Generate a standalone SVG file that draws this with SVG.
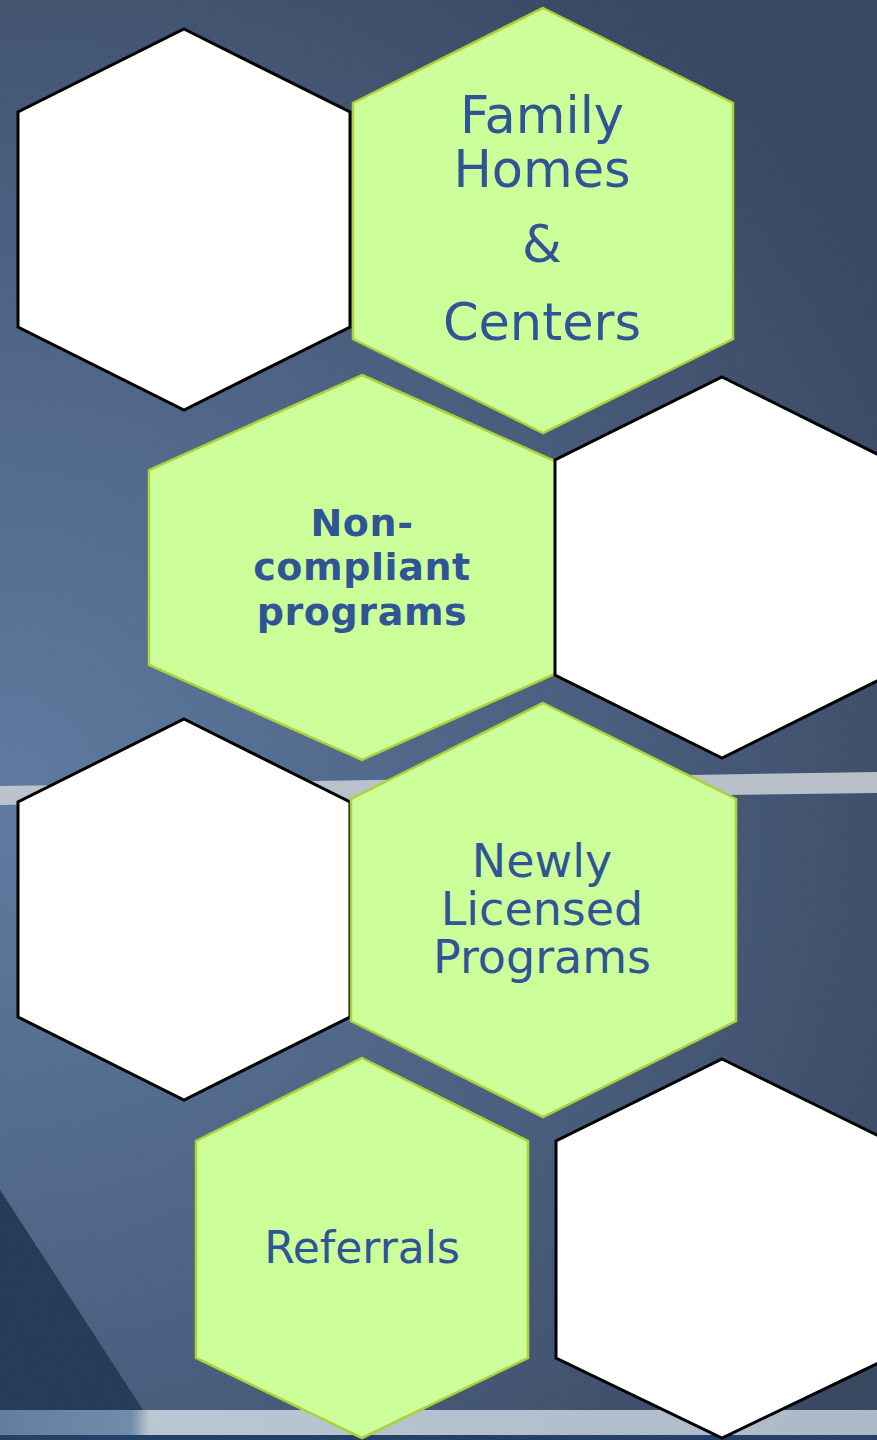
<svg xmlns="http://www.w3.org/2000/svg" width="877" height="1440" viewBox="0 0 877 1440">
<defs>
<radialGradient id="bg" gradientUnits="userSpaceOnUse" cx="0" cy="800" r="1020">
<stop offset="0" stop-color="#5a779c"/>
<stop offset="0.55" stop-color="#465c7d"/>
<stop offset="1" stop-color="#33435d"/>
</radialGradient>
<linearGradient id="stripe2" x1="0" y1="0" x2="1" y2="0">
<stop offset="0" stop-color="#5d7a9c"/>
<stop offset="0.15" stop-color="#6d88a8"/>
<stop offset="0.17" stop-color="#b9c5d0"/>
<stop offset="1" stop-color="#a9b7c6"/>
</linearGradient>
<filter id="grain" x="0" y="0" width="100%" height="100%">
<feTurbulence type="fractalNoise" baseFrequency="0.9" numOctaves="2" seed="3" result="n"/>
<feColorMatrix type="matrix" values="0 0 0 0 1  0 0 0 0 1  0 0 0 0 1  0 0 0 0.06 0"/>
</filter>
</defs>
<style>
.white{fill:#ffffff;stroke:#000000;stroke-width:3;stroke-linejoin:miter}
.green{fill:#ccff99;stroke:#acd23a;stroke-width:2.5;stroke-linejoin:miter}
.lbl{font-family:"DejaVu Sans","Liberation Sans",sans-serif;fill:#2f5597;text-anchor:middle}
.big{font-size:51px}
.mid{font-size:46px}
.bold{font-size:38px;font-weight:bold;letter-spacing:0.6px}
.ref{font-size:44px}
</style>
<g id="background">
<rect x="0" y="0" width="877" height="1440" fill="url(#bg)"/>
<polygon points="0,786 877,772 877,793 0,805" fill="#c3cad1" opacity="0.9"/>
<rect x="0" y="1410" width="877" height="25" fill="url(#stripe2)"/>
<rect x="0" y="1435" width="877" height="5" fill="#1f3b63"/>
<path d="M0,1190 Q75,1305 143,1410 L0,1410 Z" fill="#213553"/>
<rect x="0" y="0" width="877" height="1440" filter="url(#grain)"/>
</g>
<g id="connectors"/>
<g id="hex-white-1">
<polygon class="white" points="184,29 350,112 350,327 184,410 18,327 18,112"/>
</g>
<g id="hex-family">
<polygon class="green" points="543,8 733,103 733,339 543,433 353,339 353,103"/>
<text class="lbl big" x="542" y="133">Family</text>
<text class="lbl big" x="542" y="187">Homes</text>
<text class="lbl big" x="542" y="262">&amp;</text>
<text class="lbl big" x="542" y="340">Centers</text>
</g>
<g id="hex-noncompliant">
<polygon class="green" points="362,375 575,470 575,665 362,760 149,665 149,470"/>
<text class="lbl bold" x="362" y="536">Non-</text>
<text class="lbl bold" x="362" y="580">compliant</text>
<text class="lbl bold" x="362" y="625">programs</text>
</g>
<g id="hex-white-2">
<polygon class="white" points="722,377 889,460 889,675 722,758 555,675 555,460"/>
</g>
<g id="hex-white-3">
<polygon class="white" points="184,719 350,802 350,1017 184,1100 18,1017 18,802"/>
</g>
<g id="hex-newly">
<polygon class="green" points="543,703 736,799 736,1021 543,1117 351,1021 351,799"/>
<text class="lbl mid" x="542" y="877">Newly</text>
<text class="lbl mid" x="542" y="925">Licensed</text>
<text class="lbl mid" x="542" y="973">Programs</text>
</g>
<g id="hex-referrals">
<polygon class="green" points="362,1058 528,1141 528,1358 362,1438 196,1358 196,1141"/>
<text class="lbl ref" x="362" y="1263">Referrals</text>
</g>
<g id="hex-white-4">
<polygon class="white" points="722,1059 889,1141 889,1358 722,1438 556,1358 556,1141"/>
</g>
</svg>
